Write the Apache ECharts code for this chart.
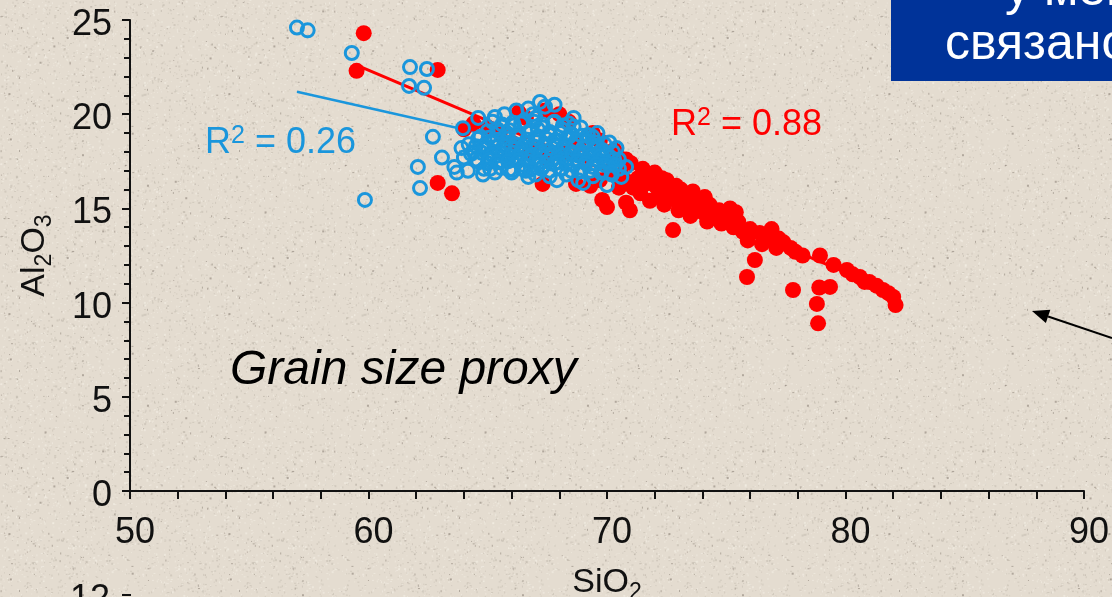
<!DOCTYPE html>
<html>
<head>
<meta charset="utf-8">
<script src="https://cdn.jsdelivr.net/npm/echarts@6/dist/echarts.min.js"></script>
<style>
  html, body { margin: 0; padding: 0; width: 1112px; height: 597px; overflow: hidden; background: #e3dbce; }
  #chart { width: 1112px; height: 597px; }
</style>
</head>
<body>
<div id="chart"></div>
<script>
// Group A (red, filled): SiO2 vs Al2O3
const redSiO2 = [
  59.8, 59.5, 62.9, 62.9, 63.5, 64.0, 64.4,
  65.0, 65.5, 66.3, 66.6, 67.4, 68.0, 68.4, 66.0, 66.8, 67.5, 68.2, 68.8, 69.4, 69.7, 70.3, 70.8, 71.0, 70.4,
  67.3, 68.7, 69.3, 69.7, 70.1, 71.1, 69.8, 70.8, 70.0, 70.96,
  71.5, 71.8, 72.0, 72.3, 72.5, 72.9, 72.2, 71.8, 73.1, 73.35, 73.6, 73.9, 74.1, 74.3, 74.45, 74.7,
  75.16, 75.0, 75.3, 75.5, 75.7, 76.0, 76.4, 76.7, 77.0, 77.2, 77.4, 77.7, 77.9, 78.2,
  72.77, 76.2, 75.87, 77.8, 78.93, 78.9, 79.35, 78.8, 78.85,
  79.5, 80.06, 80.3, 80.6, 80.8, 81.0, 81.3, 81.57, 81.8, 82.0, 82.1,
  71.3, 71.6, 72.1, 72.6, 72.8, 73.3, 73.7, 74.0, 70.6, 70.9, 71.4, 70.5,
  74.8, 75.9, 76.5, 77.1, 73.5, 76.9, 75.4, 74.2, 72.4, 73.0
];
const redAl2O3 = [
  24.3, 22.3, 22.35, 16.35, 15.8, 19.2, 19.5,
  19.3, 19.0, 20.1, 19.8, 20.2, 20.0, 19.6, 18.5, 18.0, 17.6, 17.9, 18.4, 19.0, 18.6, 18.1, 17.6, 17.4, 17.9,
  16.3, 16.3, 16.2, 16.5, 17.0, 16.1, 15.45, 15.3, 15.07, 14.9,
  17.1, 16.8, 16.9, 16.6, 16.5, 16.2, 15.8, 15.4, 16.0, 15.6, 15.9, 15.3, 15.6, 15.2, 14.5, 14.9,
  15.0, 14.5, 14.0, 14.3, 13.75, 13.9, 13.7, 13.5, 13.5, 13.4, 13.2, 12.9, 12.7, 12.5,
  13.85, 12.26, 11.36, 10.67, 12.5, 10.8, 10.83, 9.93, 8.9,
  12.0, 11.73, 11.5, 11.36, 11.1, 11.1, 10.9, 10.67, 10.5, 10.3, 9.87,
  16.6, 16.3, 16.1, 15.9, 15.5, 15.2, 14.9, 14.8, 16.8, 16.4, 15.8, 16.1,
  14.2, 13.3, 13.1, 12.9, 14.6, 13.9, 14.8, 14.3, 15.2, 14.9
];

// Group B (blue, open): SiO2 vs Al2O3
const blueSiO2 = [
  57.0, 57.45, 59.3, 61.74, 62.45, 61.7, 62.33, 62.7, 63.08, 62.07, 62.16, 59.85, 63.6, 63.7,
  64.17, 64.84, 63.96, 64.6, 65.3, 67.19, 67.8, 66.7, 68.4, 69.2, 70.8, 70.6, 70.0, 69.0, 67.9, 66.7, 66.06,
  64.2, 64.4, 64.5, 64.7, 64.9, 65.0, 65.1, 65.2, 65.4, 65.5, 65.6, 65.7, 65.8, 65.9, 66.0, 66.1, 66.2,
  66.3, 66.4, 66.5, 66.5, 66.6, 66.7, 66.8, 66.9, 67.0, 67.0, 67.1, 67.2, 67.3, 67.3, 67.4, 67.5, 67.6,
  67.7, 67.8, 67.8, 67.9, 68.0, 68.1, 68.1, 68.2, 68.3, 68.4, 68.5, 68.6, 68.7, 68.8, 68.9, 69.0, 69.1,
  69.2, 69.3, 69.4, 69.5, 69.6, 69.7, 69.8, 69.9, 70.0, 70.1, 70.2, 70.3, 70.5,
  66.0, 66.6, 67.0, 67.6, 68.3, 68.8, 69.4, 65.3, 64.8, 65.7, 66.2, 68.6, 68.9, 69.6, 70.1, 70.4,
  64.0, 63.9, 65.2, 66.9, 67.4,
  65.6, 66.05, 66.4, 66.95, 67.3, 67.75, 68.15, 68.6,
  65.0, 65.45, 65.9, 66.3, 66.75, 67.1, 67.6, 68.05, 68.5, 68.95, 69.4,
  64.6, 65.05, 65.4, 65.85, 66.2, 66.65, 67.0, 67.45, 67.8, 68.3, 68.7, 69.15, 69.5, 69.9,
  64.5, 64.85, 65.3, 65.7, 66.15, 66.5, 67.05, 67.4, 67.85, 68.2, 68.65, 69.0, 69.45, 69.8, 70.25,
  64.3, 64.75, 65.2, 65.6, 66.05, 66.4, 66.85, 67.2, 67.7, 68.1, 68.55, 68.9, 69.35, 69.7, 70.15, 70.5,
  64.6, 65.05, 65.4, 65.85, 66.3, 66.7, 67.15, 67.5, 67.95, 68.3, 68.75, 69.1, 69.55, 69.9, 70.35,
  65.1, 65.55, 65.9, 66.45, 66.8, 67.25, 67.6, 68.05, 68.5, 68.85, 69.3, 69.75, 70.2
];
const blueAl2O3 = [
  24.6, 24.45, 23.25, 22.5, 22.4, 21.5, 21.4, 18.8, 17.7, 17.2, 16.08, 15.45, 17.2, 16.9,
  17.0, 17.1, 19.26, 19.8, 19.85, 20.65, 20.5, 20.3, 19.5, 18.9, 17.2, 16.67, 16.24, 16.35, 16.5, 16.67, 17.04,
  18.4, 18.0, 17.6, 18.8, 18.2, 17.4, 17.9, 18.6, 19.2, 18.0, 17.5, 18.4, 19.0, 17.8, 18.3, 19.4, 17.6,
  18.8, 18.1, 17.3, 19.6, 18.5, 17.9, 19.1, 18.3, 17.5, 19.8, 18.7, 18.0, 17.2, 19.3, 18.4, 17.8, 18.9,
  18.2, 17.4, 19.6, 18.6, 17.9, 17.1, 19.2, 18.3, 17.6, 18.8, 18.0, 17.3, 18.5, 17.8, 17.0, 18.2, 17.5,
  18.6, 17.9, 17.2, 18.3, 17.6, 18.0, 17.0, 17.5, 17.9, 17.3, 16.8, 17.6, 17.1,
  16.9, 17.0, 16.8, 16.7, 16.8, 16.5, 16.7, 16.9, 16.8, 20.0, 20.2, 19.8, 19.3, 19.0, 18.5, 18.2,
  17.7, 18.2, 19.6, 20.0, 20.4,
  19.45, 19.55, 19.5, 19.6, 19.45, 19.55, 19.4, 19.35,
  19.1, 19.05, 19.15, 19.0, 19.1, 19.2, 19.05, 19.0, 18.95, 18.85, 18.8,
  18.7, 18.75, 18.65, 18.7, 18.8, 18.65, 18.75, 18.7, 18.6, 18.7, 18.6, 18.55, 18.5, 18.4,
  18.3, 18.35, 18.25, 18.3, 18.4, 18.3, 18.25, 18.35, 18.3, 18.2, 18.3, 18.2, 18.15, 18.1, 18.0,
  17.9, 17.95, 17.85, 17.9, 17.95, 17.9, 17.85, 17.95, 17.9, 17.8, 17.9, 17.85, 17.8, 17.75, 17.7, 17.6,
  17.5, 17.55, 17.45, 17.5, 17.55, 17.5, 17.45, 17.5, 17.45, 17.4, 17.5, 17.4, 17.35, 17.3, 17.3,
  17.1, 17.15, 17.05, 17.1, 17.05, 17.1, 17.0, 17.1, 17.0, 16.95, 17.0, 16.9, 16.9
];

// Linear fits (end points of each trend line)
const redFitSiO2 = [59.5, 82.1];
const redFitAl2O3 = [22.61, 10.48];
const blueFitSiO2 = [57.0, 70.8];
const blueFitAl2O3 = [21.19, 17.25];

const redR2 = '0.88';
const blueR2 = '0.26';

const xTicks = { min: 50, max: 90, step: 10 };
const yTicks = { min: 0, max: 25, step: 5 };

const RED = '#ff0000';
const BLUE = '#1a96dc';
const INK = '#111111';
const FONT = '"Liberation Sans", Arial, Helvetica, sans-serif';

// speckled paper backdrop
(function () {
  const c = document.createElement('canvas');
  c.width = c.height = 220;
  const g = c.getContext('2d');
  g.fillStyle = '#e4dcd0';
  g.fillRect(0, 0, 220, 220);
  let s = 987654321;
  const next = () => { s = (s * 1103515245 + 12345) & 0x7fffffff; return s / 0x7fffffff; };
  for (let i = 0; i < 3200; i++) {
    const x = next() * 220, y = next() * 220, v = next();
    g.fillStyle = v < 0.45 ? 'rgba(110,100,85,0.15)' : (v < 0.5 ? 'rgba(70,60,50,0.32)' : 'rgba(255,252,244,0.35)');
    g.fillRect(x, y, next() < 0.3 ? 2 : 1, next() < 0.3 ? 2 : 1);
  }
  document.getElementById('chart').style.background = 'url(' + c.toDataURL() + ')';
})();

const zip = (xs, ys) => xs.map((x, i) => [x, ys[i]]);

const axisCommon = {
  type: 'value',
  splitLine: { show: false },
  minorSplitLine: { show: false },
  axisLine: { show: true, onZero: false, lineStyle: { color: INK, width: 2 } },
  nameLocation: 'middle',
  nameTextStyle: {
    color: INK,
    fontFamily: FONT,
    rich: {
      m: { fontSize: 34, fontFamily: FONT, color: INK },
      s: { fontSize: 23, fontFamily: FONT, color: INK, padding: [20, 0, 0, 0] }
    }
  }
};

const chart = echarts.init(document.getElementById('chart'), null, { renderer: 'canvas' });

// arrow pointing into the plot from the right edge
const tail = [1112, 338], tip = [1032, 311];
const dx = tip[0] - tail[0], dy = tip[1] - tail[1];
const len = Math.hypot(dx, dy), ux = dx / len, uy = dy / len;
const headL = 17, headW = 7;
const base = [tip[0] - ux * headL, tip[1] - uy * headL];

const r2Rich = (color) => ({
  r: { fontSize: 36, fontFamily: FONT, fill: color },
  p: { fontSize: 25, fontFamily: FONT, fill: color, padding: [0, 0, 14, 0] }
});

chart.setOption({
  backgroundColor: 'transparent',
  animation: false,
  grid: { left: 130, right: 28, top: 20, bottom: 106, containLabel: false, outerBoundsMode: 'none' },
  xAxis: Object.assign({}, axisCommon, {
    min: xTicks.min, max: xTicks.max, interval: xTicks.step,
    axisTick: { show: true, length: 8, lineStyle: { color: INK, width: 2 } },
    minorTick: { show: true, splitNumber: 5, length: 8, lineStyle: { color: INK, width: 2 } },
    axisLabel: { color: INK, fontSize: 36, fontFamily: FONT, margin: 24, padding: [0, 0, 0, 10] },
    name: '{m|SiO}{s|2}',
    nameGap: 70
  }),
  yAxis: Object.assign({}, axisCommon, {
    min: yTicks.min, max: yTicks.max, interval: yTicks.step,
    axisTick: { show: true, length: 8, lineStyle: { color: INK, width: 2 } },
    minorTick: { show: true, splitNumber: 5, length: 6, lineStyle: { color: INK, width: 2 } },
    axisLabel: {
      color: INK, fontFamily: FONT, margin: 18,
      formatter: '{v|{value}}',
      rich: { v: { fontSize: 36, fontFamily: FONT, color: INK, padding: [10, 0, 0, 0] } }
    },
    name: '{m|Al}{s|2}{m|O}{s|3}',
    nameGap: 74
  }),
  series: [
    {
      name: 'fit A', type: 'line', z: 1, symbol: 'none', silent: true,
      data: zip(redFitSiO2, redFitAl2O3),
      lineStyle: { color: RED, width: 3 }
    },
    {
      name: 'fit B', type: 'line', z: 1, symbol: 'none', silent: true,
      data: zip(blueFitSiO2, blueFitAl2O3),
      lineStyle: { color: BLUE, width: 2.5 }
    },
    {
      name: 'A', type: 'scatter', z: 2, symbol: 'circle', symbolSize: 16,
      data: zip(redSiO2, redAl2O3),
      itemStyle: { color: RED, opacity: 1 }
    },
    {
      name: 'B', type: 'scatter', z: 3, symbol: 'circle', symbolSize: 13,
      data: zip(blueSiO2, blueAl2O3),
      itemStyle: { color: 'rgba(0,0,0,0)', borderColor: BLUE, borderWidth: 3, opacity: 1 }
    }
  ],
  graphic: [
    {
      type: 'text', x: 205, y: 143,
      style: { text: '{r|R}{p|2}{r| = ' + blueR2 + '}', fill: BLUE, verticalAlign: 'middle', rich: r2Rich(BLUE) }
    },
    {
      type: 'text', x: 671, y: 125,
      style: { text: '{r|R}{p|2}{r| = ' + redR2 + '}', fill: RED, verticalAlign: 'middle', rich: r2Rich(RED) }
    },
    {
      type: 'text', x: 230, y: 371,
      style: { text: 'Grain size proxy', fill: '#000', font: 'italic 48px ' + FONT, verticalAlign: 'middle' }
    },
    {
      type: 'rect', shape: { x: 891, y: -4, width: 240, height: 85 },
      style: { fill: '#003399' }
    },
    {
      type: 'text', x: 1005, y: -9,
      style: { text: 'у мен', fill: '#fff', font: '50px ' + FONT, verticalAlign: 'middle' }
    },
    {
      type: 'text', x: 945, y: 45,
      style: { text: 'связано', fill: '#fff', font: '50px ' + FONT, verticalAlign: 'middle' }
    },
    {
      type: 'line', shape: { x1: tail[0], y1: tail[1], x2: base[0], y2: base[1] },
      style: { stroke: '#000', lineWidth: 2 }
    },
    {
      type: 'polygon',
      shape: { points: [tip, [base[0] - uy * headW, base[1] + ux * headW], [base[0] + uy * headW, base[1] - ux * headW]] },
      style: { fill: '#000' }
    },
    {
      type: 'text', x: 110, y: 600,
      style: { text: '12', fill: INK, font: '36px ' + FONT, align: 'right', verticalAlign: 'middle' }
    },
    {
      type: 'line', shape: { x1: 122, y1: 595, x2: 131, y2: 595 },
      style: { stroke: INK, lineWidth: 2 }
    }
  ]
});
</script>
</body>
</html>
